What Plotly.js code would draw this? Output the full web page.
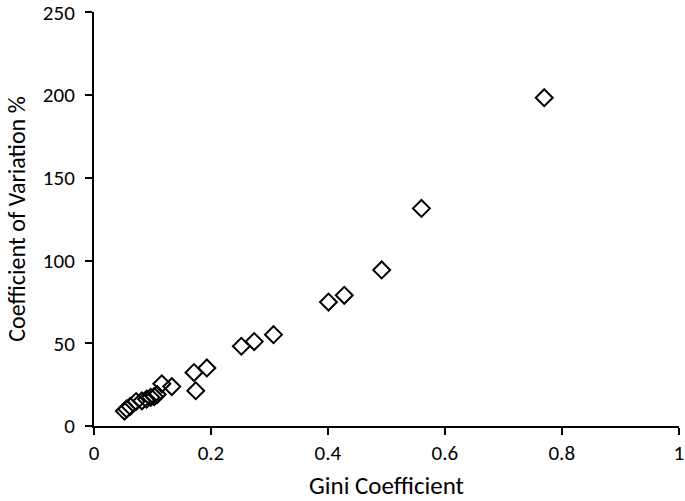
<!DOCTYPE html>
<html>
<head>
<meta charset="utf-8">
<script src="https://cdn.plot.ly/plotly-3.0.1.min.js"></script>
<style>html,body{margin:0;padding:0;background:#fff;}#chart{width:685px;height:501px;}</style>
</head>
<body>
<div id="chart"></div>
<script>
const gini = [0.052, 0.056, 0.062, 0.072, 0.082, 0.090, 0.097, 0.103, 0.108, 0.116, 0.133, 0.171, 0.174, 0.193, 0.252, 0.274, 0.307, 0.401, 0.428, 0.492, 0.560, 0.770];
const cv   = [9.0, 10.3, 11.8, 14.8, 15.2, 16.2, 17.3, 17.8, 19.0, 25.5, 23.8, 32.3, 21.3, 35.1, 48.2, 51.0, 55.2, 74.9, 79.0, 94.3, 131.5, 198.4];
const xTicks = [0, 0.2, 0.4, 0.6, 0.8, 1];
const xTickText = ['0', '0.2', '0.4', '0.6', '0.8', '1'];
const yTicks = [0, 50, 100, 150, 200, 250];

const fontFam = 'Carlito, Open Sans, Noto Sans, sans-serif';
Plotly.newPlot('chart', [{
  x: gini, y: cv, type: 'scatter', mode: 'markers',
  marker: {symbol: 'diamond-open', size: 13, color: '#000', line: {width: 2, color: '#000'}},
  hoverinfo: 'skip', cliponaxis: false
}], {
  width: 685, height: 501,
  margin: {l: 94, r: 6, t: 12, b: 75},
  paper_bgcolor: '#fff', plot_bgcolor: '#fff',
  showlegend: false,
  font: {family: fontFam, color: '#000', size: 21},
  xaxis: {
    range: [0, 1.0005], tickvals: xTicks, ticktext: xTickText,
    showgrid: false, zeroline: false, showline: true, linecolor: '#000', linewidth: 2,
    ticks: 'outside', ticklen: 7, tickwidth: 2, tickcolor: '#000',
    tickfont: {size: 21, family: fontFam}, ticklabeloverflow: 'allow',
    title: {text: 'Gini Coefficient', font: {size: 25, family: fontFam}, standoff: 12}
  },
  yaxis: {
    range: [0, 250.2], tickvals: yTicks,
    showgrid: false, zeroline: false, showline: true, linecolor: '#000', linewidth: 2,
    ticks: 'outside', ticklen: 7, tickwidth: 2, tickcolor: '#000',
    tickfont: {size: 21, family: fontFam}, ticklabeloverflow: 'allow', ticklabelstandoff: 6,
    title: {text: 'Coefficient of Variation %', font: {size: 24, family: fontFam}, standoff: 10}
  }
}, {displayModeBar: false, staticPlot: true});
</script>
</body>
</html>
